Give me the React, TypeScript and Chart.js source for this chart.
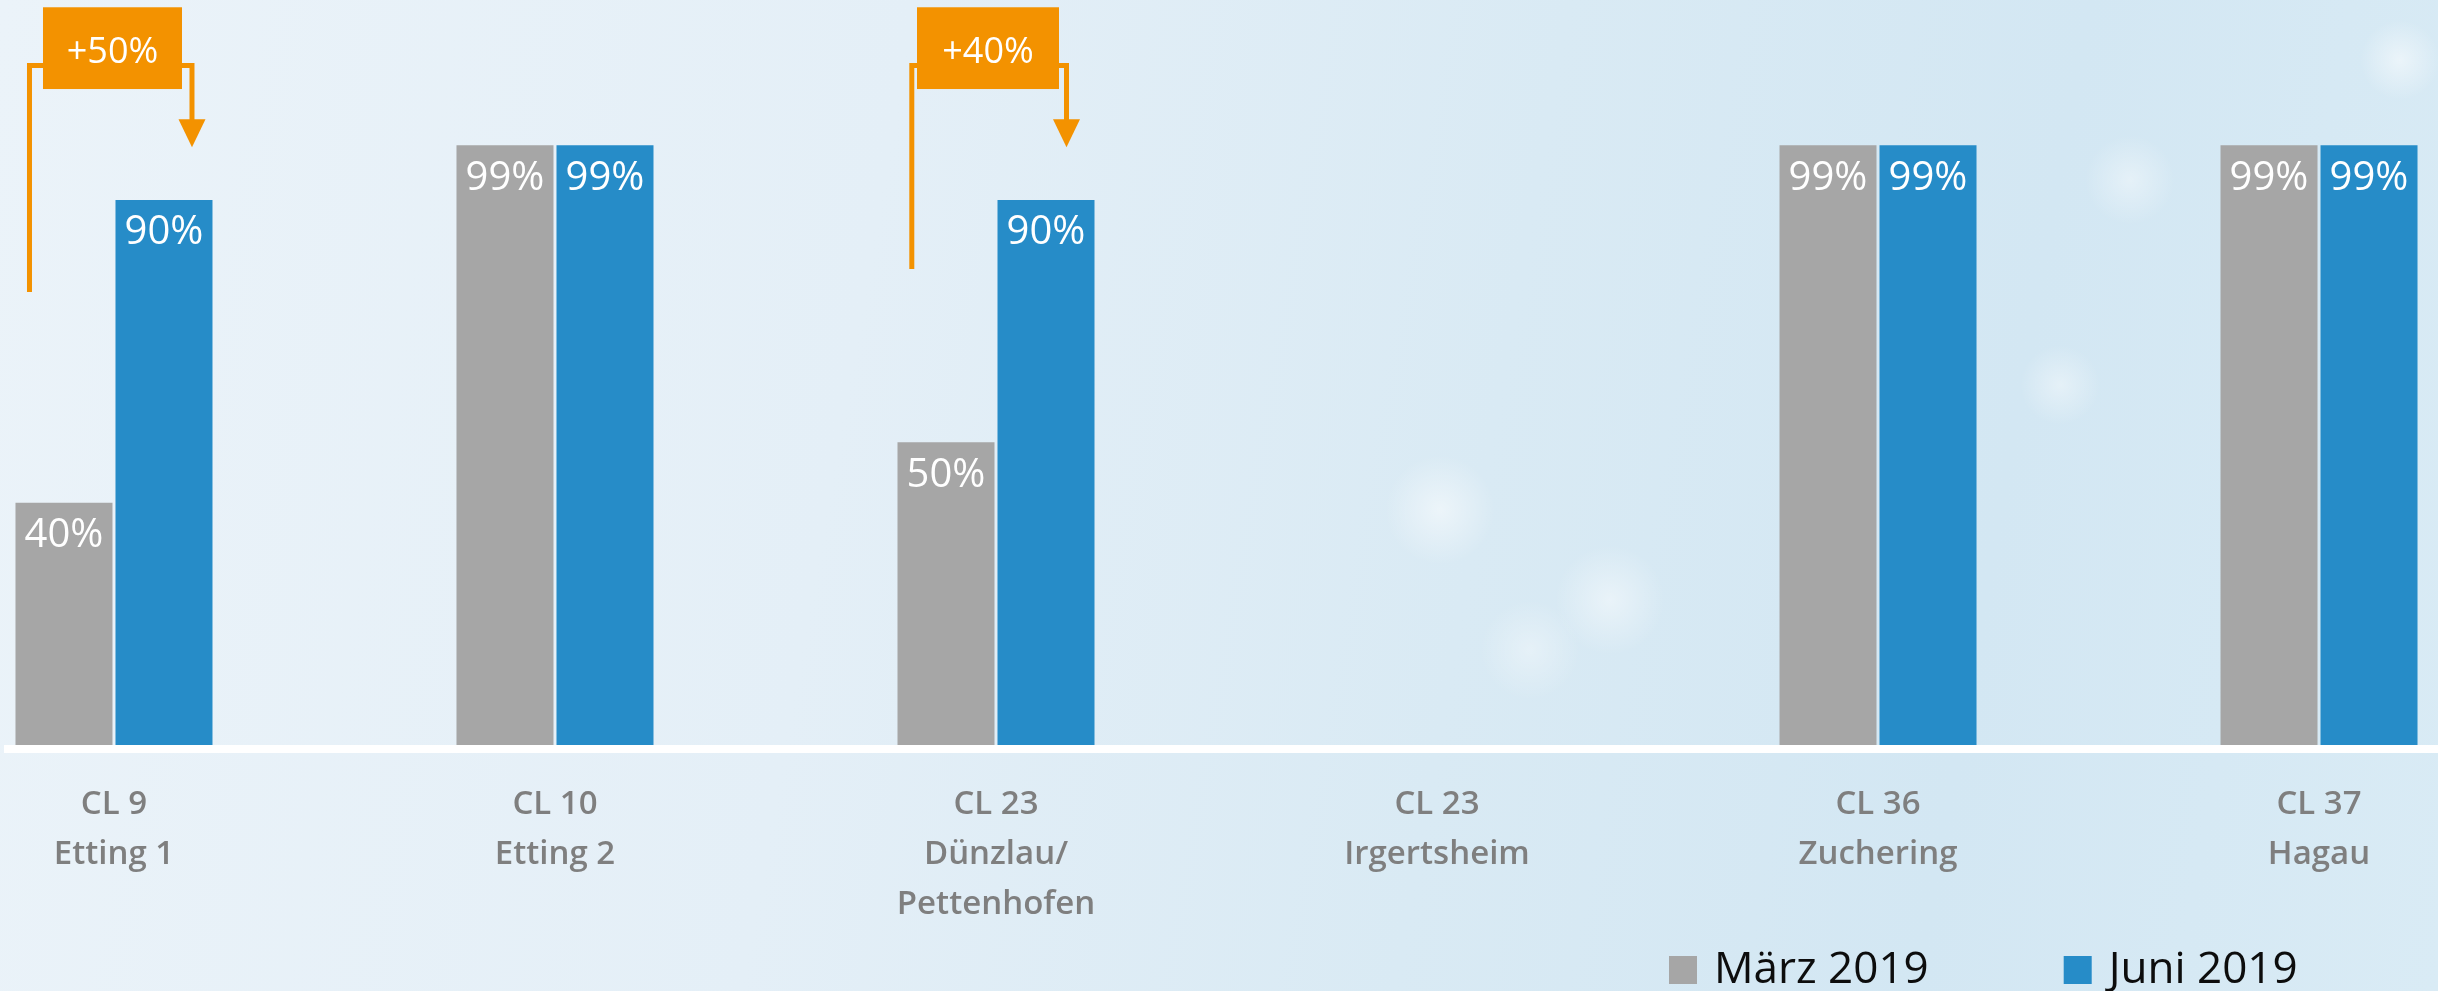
import { useEffect, useRef } from 'react';
import { Chart, registerables } from 'chart.js';

Chart.register(...registerables);

// ---------- data ----------
const categoryLabels: string[][] = [
  ['CL 9', 'Etting 1'],
  ['CL 10', 'Etting 2'],
  ['CL 23', 'Dünzlau/', 'Pettenhofen'],
  ['CL 23', 'Irgertsheim'],
  ['CL 36', 'Zuchering'],
  ['CL 37', 'Hagau'],
];
const seriesNames = ['März 2019', 'Juni 2019'];
const maerzValues: (number | null)[] = [40, 99, 50, null, 99, 99];
const juniValues: (number | null)[] = [90, 99, 90, null, 99, 99];
const changeLabels = ['+50%', '+40%'];
const changeCategories = [0, 2];
// bracket start level (value, in %) for each change annotation
const changeFromLevels = [74.8, 78.6];

// ---------- styles ----------
const GRAY = '#a6a6a6';
const BLUE = '#268cc8';
const ORANGE = '#f39200';
const FONT = '"Open Sans", "Noto Sans", sans-serif';

// annotation layout (pixel offsets from category centre)
const annotLayout = [
  { left: -84.5, right: 78, boxL: -71, boxR: 68 },
  { left: -84.2, right: 70.5, boxL: -79, boxR: 63 },
];

const axisLinePlugin = {
  id: 'axisLine',
  afterDatasetsDraw(chart: any) {
    const { ctx, chartArea, scales } = chart;
    const y0 = scales.y.getPixelForValue(0);
    ctx.save();
    ctx.fillStyle = '#ffffff';
    ctx.fillRect(chartArea.left, y0, chartArea.right - chartArea.left, 8);
    ctx.restore();
  },
};

const valueLabelPlugin = {
  id: 'valueLabels',
  afterDatasetsDraw(chart: any) {
    const { ctx } = chart;
    ctx.save();
    ctx.fillStyle = '#ffffff';
    ctx.font = `400 40px ${FONT}`;
    ctx.textAlign = 'center';
    ctx.textBaseline = 'alphabetic';
    chart.data.datasets.forEach((ds: any, di: number) => {
      const meta = chart.getDatasetMeta(di);
      meta.data.forEach((bar: any, i: number) => {
        const v = ds.data[i]?.y;
        if (v == null || !isFinite(bar.x)) return;
        ctx.fillText(`${v}%`, bar.x, bar.y + 44.5);
      });
    });
    ctx.restore();
  },
};

const changePlugin = {
  id: 'changeAnnotations',
  afterDatasetsDraw(chart: any) {
    const { ctx, scales } = chart;
    const xs = scales.x;
    const ys = scales.y;
    ctx.save();
    changeLabels.forEach((label, k) => {
      const lay = annotLayout[k];
      const cx = xs.getPixelForValue(changeCategories[k]);
      const yFrom = ys.getPixelForValue(changeFromLevels[k]);
      const yTop = ys.getPixelForValue(112.2);
      const yArrowTop = ys.getPixelForValue(103.3);
      const yTip = ys.getPixelForValue(98.7);
      const boxTop = ys.getPixelForValue(121.8);
      const boxBottom = ys.getPixelForValue(108.3);

      ctx.strokeStyle = ORANGE;
      ctx.fillStyle = ORANGE;
      ctx.lineWidth = 5;
      ctx.lineJoin = 'miter';
      ctx.lineCap = 'butt';
      ctx.beginPath();
      ctx.moveTo(cx + lay.left, yFrom);
      ctx.lineTo(cx + lay.left, yTop);
      ctx.lineTo(cx + lay.right, yTop);
      ctx.lineTo(cx + lay.right, yArrowTop + 1);
      ctx.stroke();

      ctx.beginPath();
      ctx.moveTo(cx + lay.right - 13.5, yArrowTop);
      ctx.lineTo(cx + lay.right + 13.5, yArrowTop);
      ctx.lineTo(cx + lay.right, yTip);
      ctx.closePath();
      ctx.fill();

      ctx.fillRect(cx + lay.boxL, boxTop, lay.boxR - lay.boxL, boxBottom - boxTop);
      ctx.fillStyle = '#ffffff';
      ctx.font = `400 36px ${FONT}`;
      ctx.textAlign = 'center';
      ctx.textBaseline = 'alphabetic';
      ctx.fillText(label, cx + (lay.boxL + lay.boxR) / 2, boxTop + 56);
    });
    ctx.restore();
  },
};

const legendPlugin = {
  id: 'customLegend',
  afterDraw(chart: any) {
    const { ctx } = chart;
    ctx.save();
    ctx.font = `400 44px ${FONT}`;
    ctx.textBaseline = 'alphabetic';
    ctx.textAlign = 'left';
    let x = 1669;
    chart.data.datasets.forEach((ds: any) => {
      ctx.fillStyle = ds.backgroundColor;
      ctx.fillRect(x, 956, 28, 28);
      x += 28 + 17;
      ctx.fillStyle = '#0d0d0d';
      ctx.fillText(ds.label, x, 983);
      x += ctx.measureText(ds.label).width + 135;
    });
    ctx.restore();
  },
};

export default function App() {
  const canvasRef = useRef<HTMLCanvasElement | null>(null);

  useEffect(() => {
    if (!canvasRef.current) return;
    const chart = new Chart(canvasRef.current, {
      type: 'bar',
      data: {
        datasets: [
          {
            label: seriesNames[0],
            data: maerzValues.map((v, i) => ({ x: i, y: v })) as any,
            backgroundColor: GRAY,
            borderWidth: 0,
          },
          {
            label: seriesNames[1],
            data: juniValues.map((v, i) => ({ x: i, y: v })) as any,
            backgroundColor: BLUE,
            borderWidth: 0,
          },
        ],
      },
      options: {
        animation: false,
        responsive: true,
        maintainAspectRatio: false,
        categoryPercentage: 200 / 441,
        barPercentage: 0.97,
        layout: { padding: { left: 4, right: 0, top: 0, bottom: 0 } },
        plugins: {
          legend: { display: false },
          tooltip: { enabled: false },
        },
        scales: {
          x: {
            type: 'linear',
            offset: false,
            min: -0.2494,
            max: 5.2698,
            grid: { display: false, drawTicks: false, offset: false },
            border: { display: false },
            afterBuildTicks: (axis: any) => {
              axis.ticks = categoryLabels.map((_, i) => ({ value: i }));
            },
            afterFit: (axis: any) => {
              axis.height = 246;
            },
            ticks: {
              autoSkip: false,
              maxRotation: 0,
              minRotation: 0,
              padding: 34.5,
              color: '#7f7f7f',
              font: { family: FONT, size: 33, weight: 600 as any, lineHeight: 1.515 },
              callback: (_v: any, i: number) => categoryLabels[i],
            },
          },
          y: {
            display: false,
            min: 0,
            max: 123,
          },
        },
      } as any,
      plugins: [axisLinePlugin, valueLabelPlugin, changePlugin, legendPlugin],
    });
    return () => chart.destroy();
  }, []);

  return (
    <div
      style={{
        position: 'absolute',
        left: 0,
        top: 0,
        width: 2438,
        height: 991,
        overflow: 'hidden',
        background:
          'radial-gradient(circle at 1440px 510px, rgba(255,255,255,0.5) 0, rgba(255,255,255,0) 55px),' +
          'radial-gradient(circle at 1610px 600px, rgba(255,255,255,0.45) 0, rgba(255,255,255,0) 55px),' +
          'radial-gradient(circle at 1530px 650px, rgba(255,255,255,0.35) 0, rgba(255,255,255,0) 50px),' +
          'radial-gradient(circle at 2060px 385px, rgba(255,255,255,0.4) 0, rgba(255,255,255,0) 40px),' +
          'radial-gradient(circle at 2130px 180px, rgba(255,255,255,0.4) 0, rgba(255,255,255,0) 45px),' +
          'radial-gradient(circle at 2400px 60px, rgba(255,255,255,0.5) 0, rgba(255,255,255,0) 40px),' +
          'linear-gradient(100deg, #ebf3f9 0%, #e4eff7 35%, #d9eaf4 60%, #d3e7f3 80%, #d9ebf5 100%)',
      }}
    >
      <canvas ref={canvasRef} />
    </div>
  );
}
